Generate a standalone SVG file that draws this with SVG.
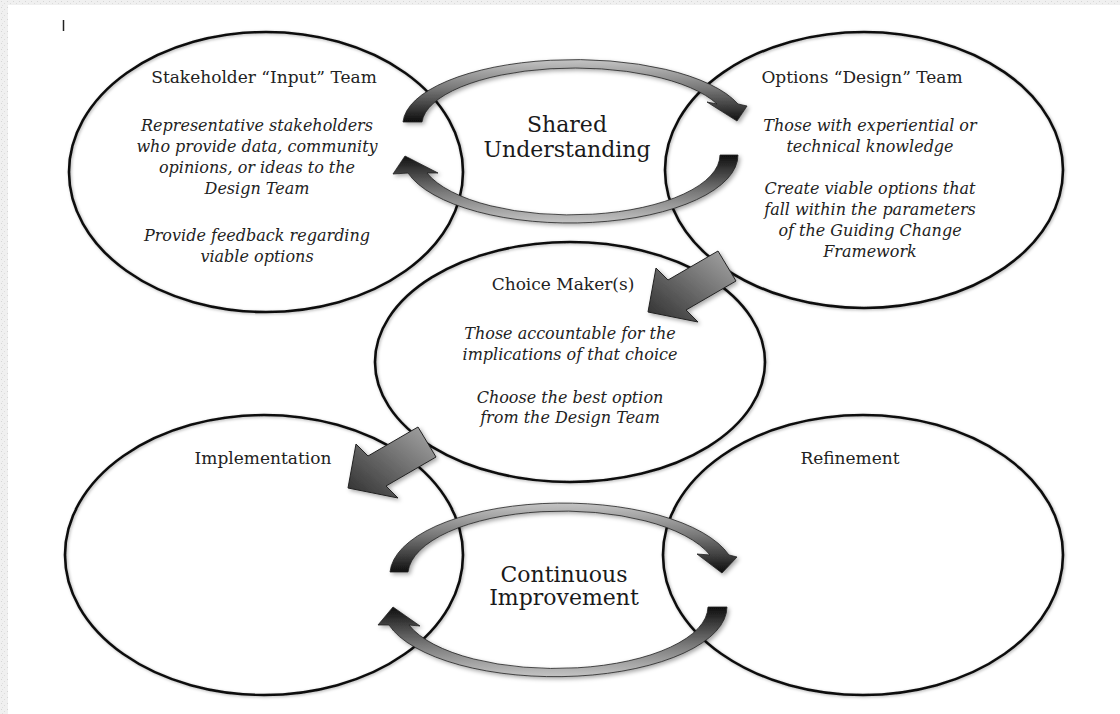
<svg xmlns="http://www.w3.org/2000/svg" width="1120" height="714" viewBox="0 0 1120 714">
  <defs>
    <style>
      .ell { fill: none; stroke: #111; stroke-width: 2.6; }
      .title { font-family: "DejaVu Serif", "Liberation Serif", serif; font-size: 17px; fill: #222; text-anchor: middle; }
      .body { font-family: "DejaVu Serif", "Liberation Serif", serif; font-size: 16px; font-style: italic; fill: #222; text-anchor: middle; }
      .big { font-family: "DejaVu Serif", "Liberation Serif", serif; font-size: 22px; fill: #1a1a1a; text-anchor: middle; }
      .curve { stroke: #222; stroke-width: 0.8; stroke-linejoin: round; }
      .block { fill: url(#gBlock); stroke: #222; stroke-width: 1; stroke-linejoin: round; }
    </style>
    <linearGradient id="gDown" x1="0" y1="0" x2="0" y2="1">
      <stop offset="0" stop-color="#c4c4c4"/>
      <stop offset="0.45" stop-color="#7a7a7a"/>
      <stop offset="1" stop-color="#0d0d0d"/>
    </linearGradient>
    <linearGradient id="gUp" x1="0" y1="0" x2="0" y2="1">
      <stop offset="0" stop-color="#0d0d0d"/>
      <stop offset="0.55" stop-color="#7a7a7a"/>
      <stop offset="1" stop-color="#c4c4c4"/>
    </linearGradient>
    <linearGradient id="gBlock" x1="1" y1="0" x2="0" y2="1">
      <stop offset="0" stop-color="#a8a8a8"/>
      <stop offset="1" stop-color="#2e2e2e"/>
    </linearGradient>
    <filter id="shadow" x="-20%" y="-20%" width="140%" height="140%">
      <feDropShadow dx="2" dy="2" stdDeviation="2" flood-color="#000" flood-opacity="0.35"/>
    </filter>
    <filter id="soft" x="-5%" y="-5%" width="110%" height="110%">
      <feDropShadow dx="1" dy="1" stdDeviation="1.5" flood-color="#000" flood-opacity="0.3"/>
    </filter>
    <pattern id="noise" width="6" height="6" patternUnits="userSpaceOnUse">
      <rect width="6" height="6" fill="#f0f0f0"/>
      <rect x="1" y="1" width="1" height="1" fill="#d6d6d6"/>
      <rect x="4" y="3" width="1" height="1" fill="#dcdcdc"/>
      <rect x="2" y="5" width="1" height="1" fill="#e0e0e0"/>
    </pattern>
  </defs>

  <rect width="1120" height="714" fill="#ffffff"/>
  <rect x="0" y="0" width="8" height="714" fill="url(#noise)"/>
  <rect x="0" y="0" width="1120" height="5" fill="url(#noise)"/>
  <line x1="63.5" y1="20" x2="63.5" y2="31" stroke="#222" stroke-width="1.5"/>

  <g id="stakeholder-input-team">
    <ellipse class="ell" cx="266" cy="172" rx="197" ry="140" filter="url(#soft)"/>
    <text class="title" x="264" y="83">Stakeholder “Input” Team</text>
    <text class="body" x="257" y="131">Representative stakeholders</text>
    <text class="body" x="257" y="152">who provide data, community</text>
    <text class="body" x="257" y="173">opinions, or ideas to the</text>
    <text class="body" x="257" y="194">Design Team</text>
    <text class="body" x="257" y="241">Provide feedback regarding</text>
    <text class="body" x="257" y="262">viable options</text>
  </g>

  <g id="options-design-team">
    <ellipse class="ell" cx="864" cy="170" rx="199" ry="138" filter="url(#soft)"/>
    <text class="title" x="862" y="83">Options “Design” Team</text>
    <text class="body" x="870" y="131">Those with experiential or</text>
    <text class="body" x="870" y="152">technical knowledge</text>
    <text class="body" x="870" y="194">Create viable options that</text>
    <text class="body" x="870" y="215">fall within the parameters</text>
    <text class="body" x="870" y="236">of the Guiding Change</text>
    <text class="body" x="870" y="257">Framework</text>
  </g>

  <g id="choice-makers">
    <ellipse class="ell" cx="570" cy="362" rx="195" ry="120" filter="url(#soft)"/>
    <text class="title" x="563" y="290">Choice Maker(s)</text>
    <text class="body" x="570" y="339">Those accountable for the</text>
    <text class="body" x="570" y="360">implications of that choice</text>
    <text class="body" x="570" y="403">Choose the best option</text>
    <text class="body" x="570" y="423">from the Design Team</text>
  </g>

  <g id="implementation">
    <ellipse class="ell" cx="264" cy="555" rx="199" ry="140" filter="url(#soft)"/>
    <text class="title" x="263" y="464">Implementation</text>
  </g>

  <g id="refinement">
    <ellipse class="ell" cx="863" cy="555" rx="200" ry="140" filter="url(#soft)"/>
    <text class="title" x="850" y="464">Refinement</text>
  </g>

  <g id="shared-understanding">
    <text class="big" x="567" y="132">Shared</text>
    <text class="big" x="567" y="157">Understanding</text>
  </g>

  <g id="continuous-improvement">
    <text class="big" x="564" y="582">Continuous</text>
    <text class="big" x="564" y="605">Improvement</text>
  </g>

  <g id="connectors" filter="url(#shadow)">
    <path class="curve" fill="url(#gDown)" d="M 403,122 A 172 65 0 0 1 738,104 L 747,106 L 737,121 L 707,102 L 717,104 A 153 57 0 0 0 422,122 Z"/>
    <path class="curve" fill="url(#gUp)" d="M 738,155 L 720,155 A 150 60 0 0 1 427,173 L 438,173 L 405,156 L 393,174 L 408,173 A 168 68 0 0 0 738,155 Z"/>
    <path class="curve" fill="url(#gDown)" d="M 390,572 A 173 72 0 0 1 729,555 L 737,557 L 722,573 L 697,554 L 710,555 A 155 64 0 0 0 408,572 Z"/>
    <path class="curve" fill="url(#gUp)" d="M 727,607 L 708,607 A 153 62 0 0 1 409,625 L 420,626 L 393,607 L 378,625 L 389,625 A 172 70 0 0 0 727,607 Z"/>
    <polygon class="block" points="718,251 736,281 686,310 698,322 648,312 656,268 668,280"/>
    <polygon class="block" points="418,427 436,457 386,486 398,498 348,488 356,444 368,456"/>
  </g>
</svg>
